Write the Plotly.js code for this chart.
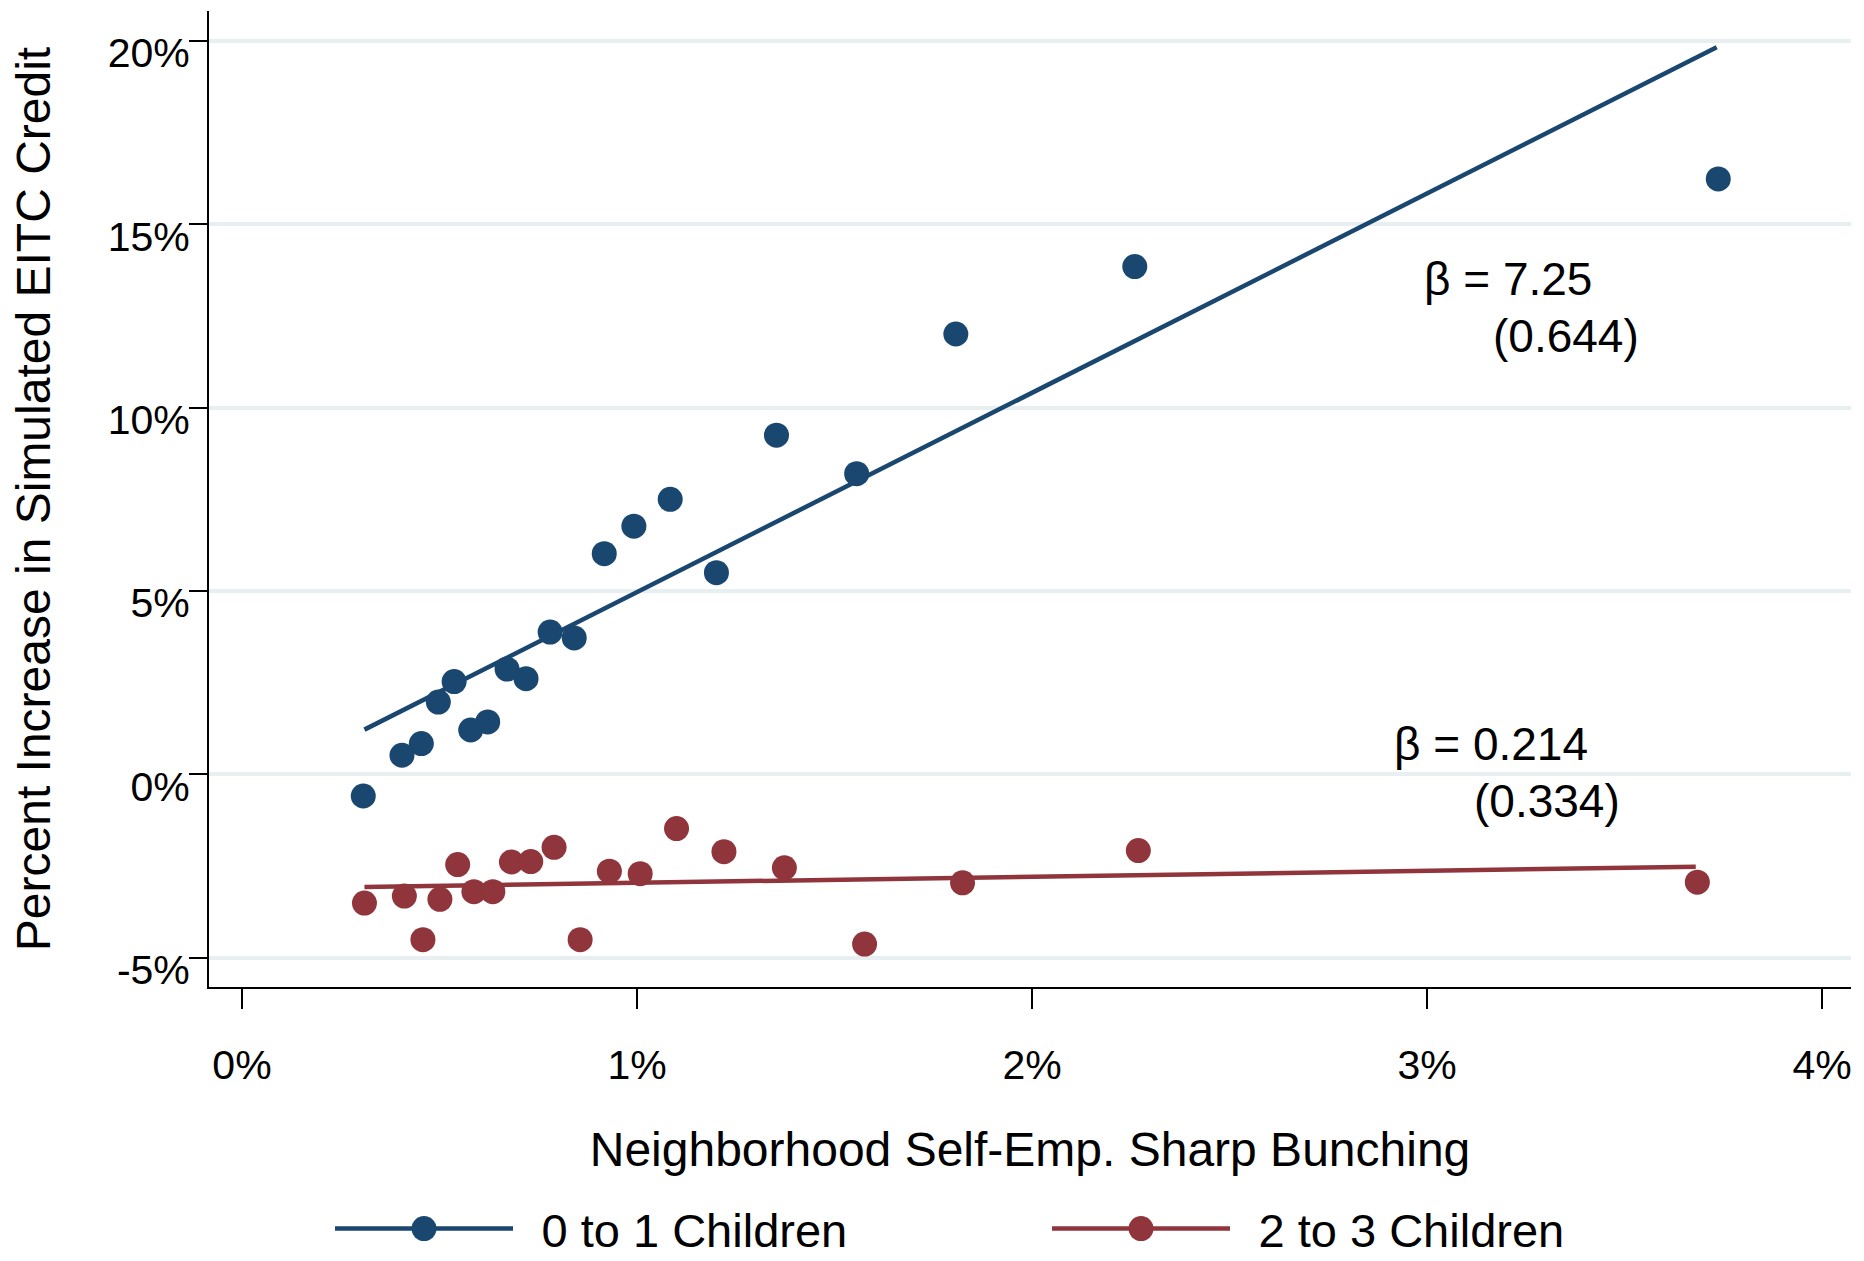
<!DOCTYPE html>
<html>
<head>
<meta charset="utf-8">
<script src="https://cdn.plot.ly/plotly-3.0.1.min.js"></script>
<style>
html,body{margin:0;padding:0;background:#ffffff;}
#chart{width:1864px;height:1261px;}
</style>
</head>
<body>
<div id="chart"></div>
<script>
// ---- data ----
const seriesNames = ["0 to 1 Children", "2 to 3 Children"];

const blueX = [0.307, 0.405, 0.454, 0.497, 0.537, 0.579, 0.622, 0.671, 0.719, 0.780,
               0.841, 0.917, 0.992, 1.084, 1.201, 1.353, 1.556, 1.807, 2.260, 3.737];
const blueY = [-0.59, 0.52, 0.84, 1.97, 2.53, 1.21, 1.43, 2.87, 2.61, 3.88,
               3.72, 6.02, 6.77, 7.50, 5.50, 9.25, 8.20, 12.01, 13.85, 16.24];

const redX = [0.310, 0.411, 0.458, 0.501, 0.546, 0.587, 0.635, 0.682, 0.731, 0.790,
              0.856, 0.930, 1.008, 1.100, 1.220, 1.373, 1.576, 1.824, 2.269, 3.684];
const redY = [-3.51, -3.32, -4.51, -3.41, -2.46, -3.20, -3.20, -2.39, -2.38, -1.99,
              -4.51, -2.64, -2.71, -1.48, -2.11, -2.55, -4.63, -2.96, -2.08, -2.94];

// fitted lines (end points)
const blueFitX = [0.310, 3.733];
const blueFitY = [1.22, 19.83];
const redFitX = [0.310, 3.680];
const redFitY = [-3.07, -2.52];

const betaText = ["β = 7.25", "β = 0.214"];
const seText = ["(0.644)", "(0.334)"];

const xTicks = [0, 1, 2, 3, 4];
const yTicks = [-5, 0, 5, 10, 15, 20];
const xTickText = xTicks.map(v => v + "%");
const yTickText = yTicks.map(v => v + "%");

const xTitle = "Neighborhood Self-Emp. Sharp Bunching";
const yTitle = "Percent Increase in Simulated EITC Credit";

// ---- styles ----
const BLUE = "#1a476f";
const RED = "#90353b";
const FONT = "Liberation Sans, Arial, Helvetica, sans-serif";
const GAP = "\u2002"; // spacing between legend symbol and label
const MS = 25;

const traces = [
  {x: blueFitX, y: blueFitY, mode: "lines", line: {color: BLUE, width: 4.5}, showlegend: false, hoverinfo: "skip"},
  {x: redFitX, y: redFitY, mode: "lines", line: {color: RED, width: 4.5}, showlegend: false, hoverinfo: "skip"},
  {x: blueX, y: blueY, mode: "markers", marker: {color: BLUE, size: MS}, showlegend: false},
  {x: redX, y: redY, mode: "markers", marker: {color: RED, size: MS}, showlegend: false},
  {x: [null], y: [null], name: GAP + seriesNames[0], mode: "lines+markers",
   line: {color: BLUE, width: 4.5}, marker: {color: BLUE, size: MS}},
  {x: [null], y: [null], name: GAP + seriesNames[1], mode: "lines+markers",
   line: {color: RED, width: 4.5}, marker: {color: RED, size: MS}}
];

const layout = {
  width: 1864, height: 1261,
  margin: {l: 209, r: 13, t: 11, b: 274, pad: 0, autoexpand: false},
  paper_bgcolor: "#ffffff", plot_bgcolor: "#ffffff",
  font: {family: FONT, color: "#000000", size: 41},
  showlegend: true,
  legend: {
    orientation: "h", x: 0.0737, y: -0.248, xanchor: "left", yanchor: "middle",
    font: {size: 47, family: FONT, color: "#000"}, itemwidth: 178,
    entrywidth: 524, bgcolor: "rgba(0,0,0,0)"
  },
  xaxis: {
    range: [-0.0835, 4.073], tickmode: "array", tickvals: xTicks, ticktext: xTickText,
    ticks: "outside", ticklen: 20, tickwidth: 2, tickcolor: "#000",
    showline: true, linecolor: "#000", linewidth: 2, mirror: false,
    showgrid: false, zeroline: false, ticklabelstandoff: 21,
    tickfont: {size: 41, family: FONT},
    title: {text: xTitle, font: {size: 48, family: FONT}, standoff: 45}
  },
  yaxis: {
    range: [-5.80, 20.82], tickmode: "array", tickvals: yTicks, ticktext: yTickText,
    ticks: "outside", ticklen: 18, tickwidth: 2, tickcolor: "#000",
    showline: true, linecolor: "#000", linewidth: 2,
    showgrid: true, gridcolor: "#e8eff1", gridwidth: 4, zeroline: false,
    ticklabelshift: 12, ticklabelstandoff: -9,
    tickfont: {size: 41, family: FONT},
    title: {text: yTitle, font: {size: 48, family: FONT}, standoff: 42}
  },
  annotations: [
    {x: 2.986, y: 13.51, xref: "x", yref: "y", text: betaText[0], showarrow: false,
     xanchor: "left", yanchor: "middle", font: {size: 46, family: FONT}},
    {x: 3.161, y: 11.95, xref: "x", yref: "y", text: seText[0], showarrow: false,
     xanchor: "left", yanchor: "middle", font: {size: 46, family: FONT}},
    {x: 2.912, y: 0.82, xref: "x", yref: "y", text: betaText[1], showarrow: false,
     xanchor: "left", yanchor: "middle", font: {size: 46, family: FONT}},
    {x: 3.114, y: -0.73, xref: "x", yref: "y", text: seText[1], showarrow: false,
     xanchor: "left", yanchor: "middle", font: {size: 46, family: FONT}}
  ]
};

Plotly.newPlot("chart", traces, layout, {displayModeBar: false, staticPlot: true}).then(function (gd) {
  // legend symbols: Plotly caps legend marker size at 16px; draw them at the trace's marker size
  var r = MS / 2;
  var circle = "M" + r + ",0A" + r + "," + r + " 0 1,1 0,-" + r + "A" + r + "," + r + " 0 0,1 " + r + ",0Z";
  gd.querySelectorAll(".legend .legendpoints path.scatterpts").forEach(function (p) {
    p.setAttribute("d", circle);
  });
});
</script>
</body>
</html>
